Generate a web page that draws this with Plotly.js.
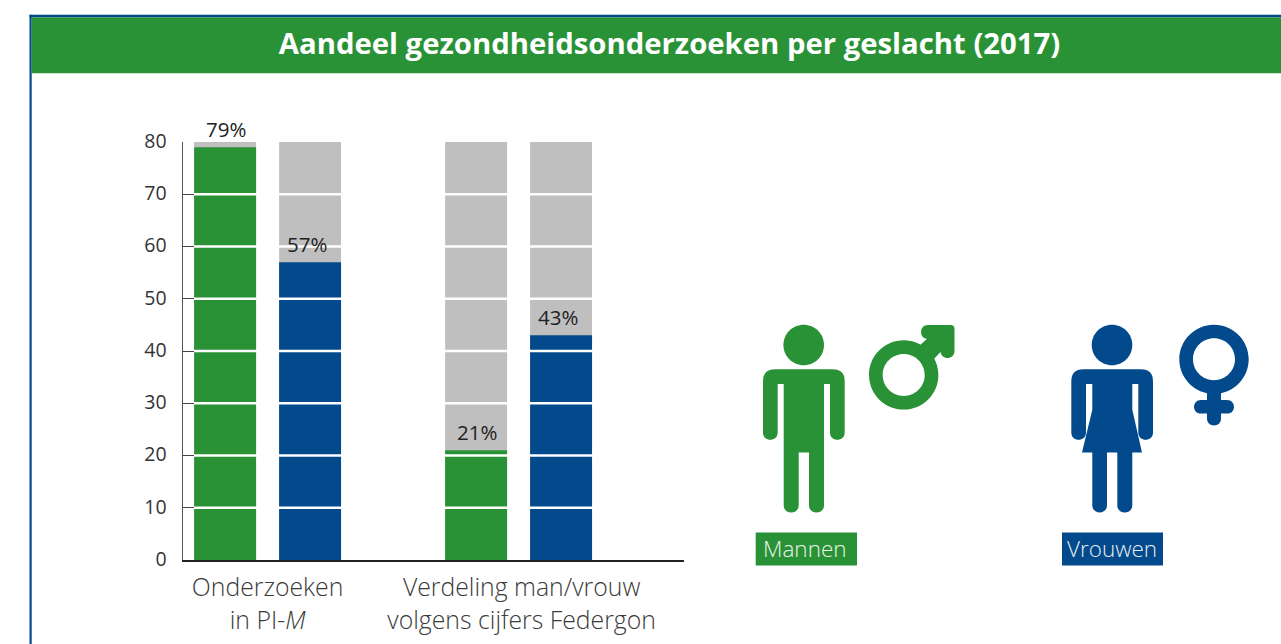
<!DOCTYPE html>
<html>
<head>
<meta charset="utf-8">
<script src="https://cdn.plot.ly/plotly-3.0.1.min.js"></script>
<style>html,body{margin:0;padding:0;background:#fff;overflow:hidden}#chart{width:1281px;height:644px}</style>
</head>
<body>
<div id="chart"></div>
<script>
const titleText = "Aandeel gezondheidsonderzoeken per geslacht (2017)";
const categories = ["Onderzoeken<br>in PI-<i>M</i>", "Verdeling man/vrouw<br>volgens cijfers Federgon"];
const scaleTop = [80, 80];
const mannen = [79, 21];
const vrouwen = [57, 43];
const yTicks = [0, 10, 20, 30, 40, 50, 60, 70, 80];
const GREEN = "#2A9236", BLUE = "#034A8C", GRAY = "#BFBFBF";
const FONT = '"Open Sans", sans-serif';

const W = 1281, H = 644;
const plot = {l: 183, r: 684, t: 141.5, b: 560.5};
const px = x => (x - plot.l) / (plot.r - plot.l);
const py = y => (plot.b - y) / (plot.b - plot.t);

// pixel geometry -> paper coordinates for decoration paths
function path(list) {
  return list.map(seg => {
    const [c, ...n] = seg;
    const out = [];
    for (let i = 0; i < n.length; i += 2) out.push(px(n[i]).toFixed(5) + "," + py(n[i + 1]).toFixed(5));
    return c + out.join(" ");
  }).join(" ");
}
function circle(cx, cy, r) {
  const k = 0.5523 * r;
  return [["M", cx + r, cy],
    ["C", cx + r, cy + k, cx + k, cy + r, cx, cy + r],
    ["C", cx - k, cy + r, cx - r, cy + k, cx - r, cy],
    ["C", cx - r, cy - k, cx - k, cy - r, cx, cy - r],
    ["C", cx + k, cy - r, cx + r, cy - k, cx + r, cy], ["Z"]];
}
const capDown = (x1, x2, y) => { const d = Math.abs(x2 - x1) * 2 / 3; return ["C", x1, y + d, x2, y + d, x2, y]; };
function paperShape(list, color, extra) {
  return Object.assign({type: "path", xref: "paper", yref: "paper", layer: "above",
    path: path(list), fillcolor: color, line: {width: 0}}, extra || {});
}
function rect(x0, y0, x1, y1, color) {
  return {type: "rect", xref: "paper", yref: "paper", layer: "above", x0: px(x0), x1: px(x1), y0: py(y1), y1: py(y0), fillcolor: color, line: {width: 0}};
}
function personTop(l, r, al, bl, br, ar) {
  return [["M", l + 12, 369.3], ["L", r - 12, 369.3], ["Q", r, 369.3, r, 381.3], ["L", r, 432.7], capDown(r, ar, 432.7), ["L", ar, 384], ["L", br, 384]];
}
const man = [
  ...personTop(763, 844.7, 777.7, 783.7, 824, 830),
  ["L", 824, 505.5], capDown(824, 809, 505.5), ["L", 809, 452.7], ["L", 798.7, 452.7], ["L", 798.7, 505.5], capDown(798.7, 783.7, 505.5),
  ["L", 783.7, 384], ["L", 777.7, 384], ["L", 777.7, 432.7], capDown(777.7, 763, 432.7), ["L", 763, 381.3], ["Q", 763, 369.3, 775, 369.3], ["Z"]];
const woman = [
  ...personTop(1071.3, 1153, 1086, 1092.3, 1132.3, 1138.3),
  ["L", 1132.3, 410], ["L", 1142, 452.7], ["L", 1132.3, 452.7], ["L", 1132.3, 505.5], capDown(1132.3, 1117.3, 505.5), ["L", 1117.3, 452.7], ["L", 1107, 452.7], ["L", 1107, 505.5], capDown(1107, 1092.3, 505.5), ["L", 1092.3, 452.7], ["L", 1082, 452.7], ["L", 1092.3, 410],
  ["L", 1092.3, 384], ["L", 1086, 384], ["L", 1086, 432.7], capDown(1086, 1071.3, 432.7), ["L", 1071.3, 381.3], ["Q", 1071.3, 369.3, 1083.3, 369.3], ["Z"]];
const arrowHead = [["M", 928, 325], ["L", 950.5, 325], ["Q", 954.5, 325, 954.5, 329], ["L", 954.5, 351], capDown(954.5, 940.5, 351), ["L", 940.5, 339], ["L", 928, 339], ["C", 918.7, 339, 918.7, 325, 928, 325], ["Z"]];
const arrowStem = [["M", 918, 347], ["L", 940, 327], ["L", 950, 342], ["L", 932, 361], ["Z"]];
const femStem = [["M", 1207, 385], ["L", 1221, 385], ["L", 1221, 418.7], capDown(1221, 1207, 418.7), ["Z"]];
const femBar = [["M", 1201, 400], ["L", 1227, 400], ["C", 1236.3, 400, 1236.3, 413.7, 1227, 413.7], ["L", 1201, 413.7], ["C", 1191.7, 413.7, 1191.7, 400, 1201, 400], ["Z"]];

const shapes = [
  rect(29.5, 14, W + 2, 16.7, BLUE),
  rect(29.5, 14, 31.7, H + 2, BLUE),
  rect(31.7, 16.7, W + 2, 72.7, GREEN),
  ...yTicks.filter(t => t > 0 && t < 80).map(t => ({type: "line", xref: "paper", yref: "y", layer: "above",
    x0: px(194), x1: 1, y0: t, y1: t, line: {color: "#FFFFFF", width: 2.4}})),
  paperShape(circle(803.7, 345, 20.3), GREEN),
  paperShape(man, GREEN),
  paperShape([...circle(903.7, 375, 34.7), ...circle(903.7, 375, 21)], GREEN, {fillrule: "evenodd"}),
  paperShape(arrowStem, GREEN),
  paperShape(arrowHead, GREEN),
  paperShape(circle(1112, 345, 20.3), BLUE),
  paperShape(woman, BLUE),
  paperShape([...circle(1214, 359.3, 34.7), ...circle(1214, 359.3, 21)], BLUE, {fillrule: "evenodd"}),
  paperShape(femStem, BLUE),
  paperShape(femBar, BLUE),
  rect(755.7, 533, 857, 566, GREEN),
  rect(1062, 533, 1163, 566, BLUE)
];

const bar = (name, y, color, group) => ({type: "bar", name, x: categories, y, offsetgroup: group,
  marker: {color, line: {width: 0}}, hoverinfo: "skip", showlegend: false});
const traces = [
  bar("Schaal man", scaleTop, GRAY, "m"),
  bar("Schaal vrouw", scaleTop, GRAY, "v"),
  bar("Mannen", mannen, GREEN, "m"),
  bar("Vrouwen", vrouwen, BLUE, "v")
];

const valueLabel = (v, i, shift) => ({xref: "x", yref: "y", x: i, y: v, text: v + "%", showarrow: false,
  xshift: shift, yshift: 18, yanchor: "middle", xanchor: "center",
  font: {family: FONT, size: 20.5, color: "#222222"}});
const pLabel = (text, x) => ({xref: "paper", yref: "paper", x: px(x), y: py(548.7), text, showarrow: false,
  xanchor: "center", yanchor: "middle", font: {family: FONT, size: 22.5, color: "#FFFFFF", weight: 300}, opacity: 0.9});

const annotations = [
  ...mannen.map((v, i) => valueLabel(v, i, -41.5)),
  ...vrouwen.map((v, i) => valueLabel(v, i, 39.5)),
  pLabel("Mannen", 805),
  pLabel("Vrouwen", 1112)
];

const layout = {
  width: W, height: H,
  paper_bgcolor: "#FFFFFF", plot_bgcolor: "#FFFFFF",
  margin: {l: plot.l, r: W - plot.r, t: plot.t, b: H - plot.b, pad: 0},
  font: {family: FONT},
  title: {text: titleText, x: 669.5 / W, y: 1 - 44 / H, xref: "container", yref: "container", xanchor: "center", yanchor: "middle",
    font: {family: FONT, size: 29.3, color: "#FFFFFF", weight: 700}},
  barmode: "group", bargap: 0.323, bargroupgap: 0.271,
  xaxis: {type: "category", range: [-0.337, 1.659], fixedrange: true, showgrid: false, zeroline: false,
    showline: true, linecolor: "#222222", linewidth: 1.5, ticks: "", ticklen: 0,
    tickmode: "array", tickvals: [0, 1.012], ticktext: categories,
    ticklabelstandoff: 5,
    tickfont: {family: FONT, size: 24.8, color: "#3a3a3a", weight: 300}},
  yaxis: {range: [0, 80], tickvals: yTicks, fixedrange: true, showgrid: false, zeroline: false,
    showline: true, linecolor: "#555555", linewidth: 1.5, ticks: "inside", ticklen: 12, tickwidth: 1, tickcolor: "#444444",
    ticklabelstandoff: 11, ticklabelshift: -1,
    tickfont: {family: FONT, size: 19.5, color: "#333333"}},
  shapes, annotations
};
Plotly.newPlot("chart", traces, layout, {displayModeBar: false, staticPlot: true});
</script>
</body>
</html>
